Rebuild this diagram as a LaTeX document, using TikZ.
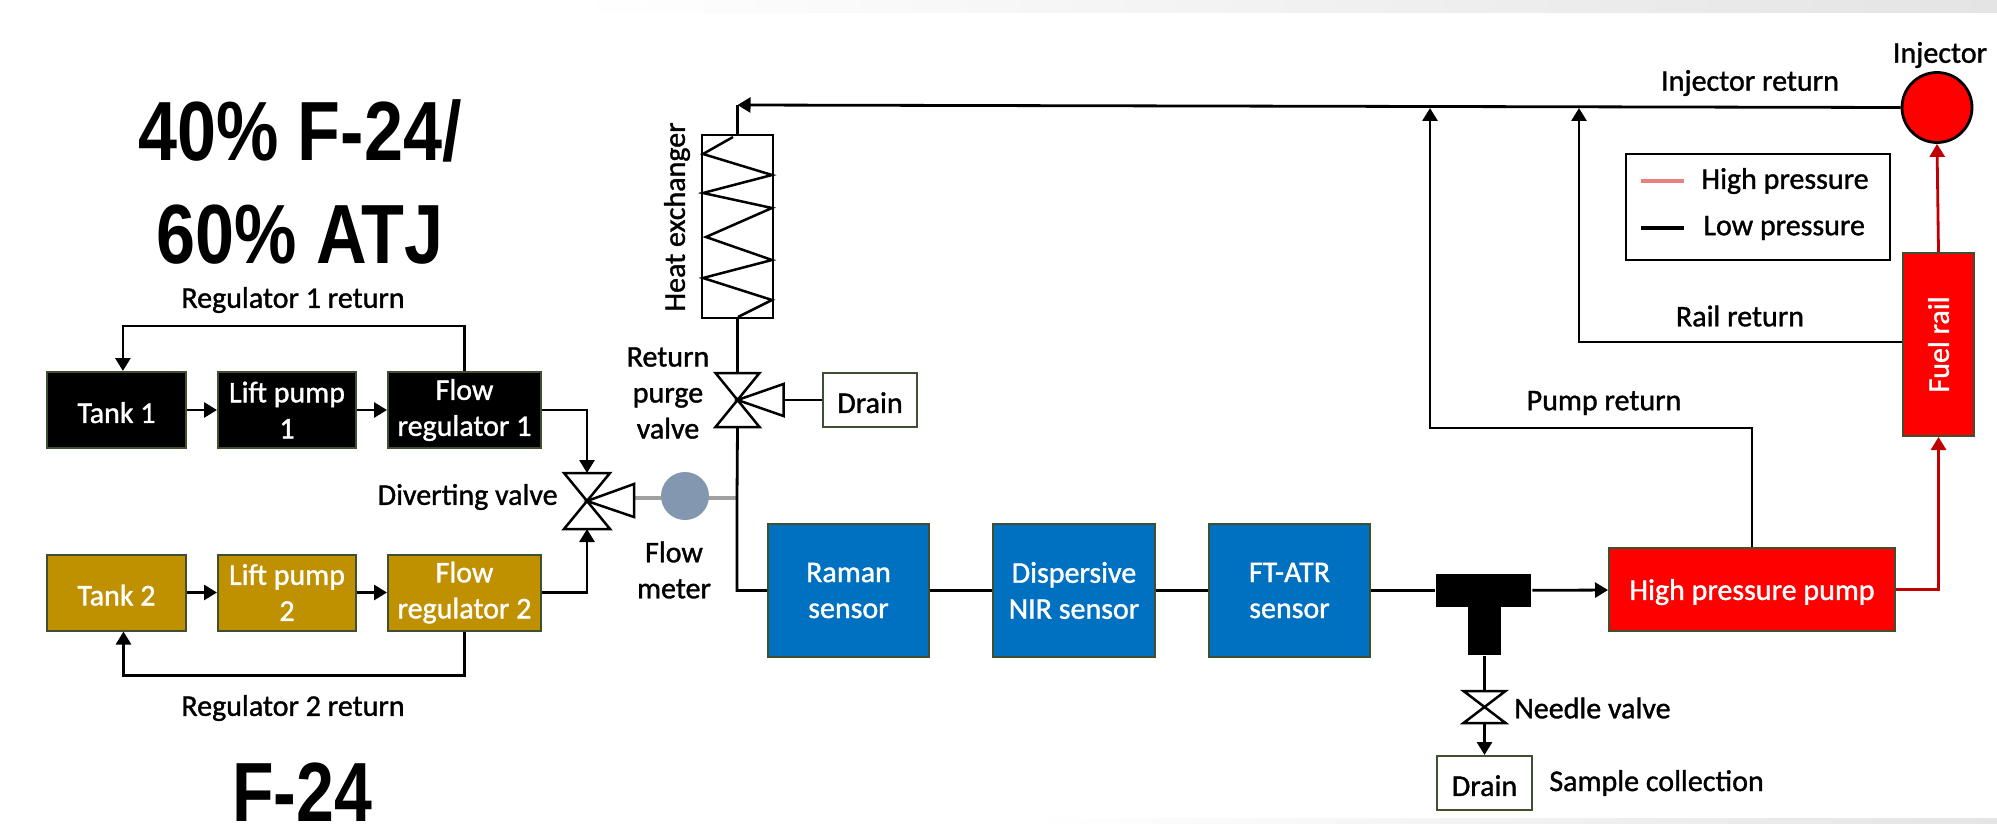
\documentclass[tikz,border=0pt]{standalone}
\usepackage{fontspec}
\setmainfont{Carlito}[FakeBold=1.2]
\newfontfamily\titlefont{Liberation Sans}
\usetikzlibrary{arrows.meta}
\definecolor{tankgold}{HTML}{BF9000}
\definecolor{sensorblue}{HTML}{0070C0}
\definecolor{pumpred}{HTML}{FF0000}
\definecolor{linered}{HTML}{C00000}
\definecolor{legendred}{HTML}{E88080}
\definecolor{meterblue}{HTML}{8497B0}
\definecolor{boxedge}{HTML}{3F4F2F}
\definecolor{pipegray}{HTML}{A0A0A0}
\definecolor{bandgray}{HTML}{E4E4E4}
\newcommand{\bigtitle}[2]{\scalebox{#1}[1]{\titlefont\bfseries\fontsize{42}{50}\selectfont #2}}

\begin{document}
\begin{tikzpicture}[
    x=0.5pt,y=-0.5pt,
    line width=1.4pt,
    font=\fontsize{15}{18}\selectfont
]
\tikzset{
    mybox/.style = {rectangle, draw=boxedge, line width=1pt, inner sep=0pt, align=center, text=white,
        execute at begin node=\rule{0pt}{13pt}},
    tankbox/.style = {mybox, fill=black, minimum height=38pt},
    goldbox/.style = {mybox, fill=tankgold, minimum height=38pt},
    sensorbox/.style = {mybox, fill=sensorblue, minimum width=80.5pt, minimum height=66.5pt},
    redbox/.style = {mybox, fill=pumpred},
    drainbox/.style = {mybox, fill=white, text=black, minimum width=47pt, minimum height=27pt},
    teebox/.style = {rectangle, fill=black, inner sep=0pt},
    txt/.style = {inner sep=0pt, align=center, text=black},
    bigtxt/.style = {inner sep=0pt, anchor=base, text=black},
    edgen/.style = {-{Triangle[length=6.5pt,width=7.5pt]}},
    edger/.style = {-{Triangle[length=6.5pt,width=7.5pt]},linered},
    valveline/.style = {line width=1.25pt,line join=miter}
}
\useasboundingbox (0,0) rectangle (1997,824);
\fill[left color=white,right color=bandgray,draw=none] (570,0) rectangle (1997,13);
\fill[left color=white,right color=bandgray,draw=none] (1030,818) rectangle (1997,824);

% titles
\node[bigtxt] at (300,161) (title1) {\bigtitle{.835}{40\% F-24/}};
\node[bigtxt] at (300,263) (title2) {\bigtitle{.835}{60\% ATJ}};
\node[bigtxt] at (302,821) (title3) {\bigtitle{.81}{F-24}};

% tanks, pumps, regulators
\node[tankbox,minimum width=69.5pt] at (116.5,410) (tank1) {Tank 1};
\node[tankbox,minimum width=69pt] at (287,410) (lift1) {Lift pump\\1};
\node[tankbox,minimum width=76.5pt] at (464.5,410) (reg1) {Flow\\regulator 1};
\node[goldbox,minimum width=69.5pt] at (116.5,592.5) (tank2) {Tank 2};
\node[goldbox,minimum width=69pt] at (287,592.5) (lift2) {Lift pump\\2};
\node[goldbox,minimum width=76.5pt] at (464.5,592.5) (reg2) {Flow\\regulator 2};

% flow meter sits on its pipe
\coordinate (dvside) at (634,498);
\coordinate (jn) at (737,498);
\draw[pipegray,line width=2pt] (dvside) -- (jn);
\node[circle,fill=meterblue,minimum size=24pt,inner sep=0pt] at (685,496) (fm) {};

% sensors and engine side
\node[sensorbox] at (848.5,590.5) (raman) {Raman\\sensor};
\node[sensorbox,minimum width=81pt] at (1074,590.5) (nir) {Dispersive\\NIR sensor};
\node[sensorbox] at (1289.5,590.5) (atr) {FT-ATR\\sensor};
\node[redbox,minimum width=143pt,minimum height=41.5pt] at (1752,589.5) (hpp) {High pressure pump};
\node[redbox,minimum width=35.5pt,minimum height=91.5pt] at (1938.5,344.5) (rail) {};
\node[txt,text=white,rotate=90] at (rail) (railtxt) {Fuel rail};
\node[circle,draw=black,fill=pumpred,minimum size=35pt,inner sep=0pt] at (1937,107.5) (inj) {};
\node[drainbox] at (870,400) (drain1) {Drain};
\node[drainbox,minimum width=47.5pt] at (1484.5,783) (drain2) {Drain};
\node[teebox,minimum width=47.5pt,minimum height=16.5pt] at (1483.5,590.5) (tee) {};
\node[teebox,minimum width=16.5pt,minimum height=24pt] at (1484.5,631) (stem) {};
\node[rectangle,draw=black,minimum width=35.5pt,minimum height=91.5pt,inner sep=0pt] at (737.5,226.5) (hx) {};
\draw[line width=1.25pt] (733,137) -- (703,154) -- (772,175) -- (703,193) -- (772,208) -- (706,237)
    -- (772,260) -- (703,278) -- (772,300) -- (738,317);

% valves
\coordinate (dv) at (587,501);
\coordinate (dvtop) at (587,473);
\coordinate (dvbot) at (587,529);
\draw[valveline] (dv) -- ++(-23,-28) -- ++(46,0) -- ++(-46,56) -- ++(46,0) -- cycle;
\draw[valveline] (dv) -- ++(47,-17) -- ++(0,33) -- cycle;
\coordinate (rp) at (737.5,400);
\coordinate (rptop) at (737.5,373);
\coordinate (rpbot) at (737.5,427);
\coordinate (rpside) at (784,400);
\draw[valveline] (rp) -- ++(-22,-27) -- ++(44,0) -- ++(-44,54) -- ++(44,0) -- cycle;
\draw[valveline] (rp) -- ++(46,-16) -- ++(0,32) -- cycle;
\coordinate (nv) at (1484.5,707);
\coordinate (nvtop) at (1484.5,691);
\coordinate (nvbot) at (1484.5,723);
\draw[valveline] (nv) -- ++(-21,-16) -- ++(42,0) -- ++(-42,32) -- ++(42,0) -- cycle;

% low pressure lines
\coordinate (hxtop) at (737.5,105);
\coordinate (pumptip) at (1430,108);
\coordinate (railtip) at (1579,108);
\draw[edgen] (tank1) -- (lift1);
\draw[edgen] (lift1) -- (reg1);
\draw[edgen] (tank2) -- (lift2);
\draw[edgen] (lift2) -- (reg2);
\draw[edgen] (reg1.north) -- ++(0,-45) -| ([xshift=3.2pt]tank1.north);
\draw[edgen] (reg2.south) -- ++(0,44) -| ([xshift=3.5pt]tank2.south);
\draw[edgen] (reg1.east) -| (dvtop);
\draw[edgen] (reg2.east) -| (dvbot);
\draw (rpbot) -- (jn) |- (raman.west);
\draw (raman) -- (nir);
\draw (nir) -- (atr);
\draw (atr) -- (tee);
\draw[edgen] (tee) -- (hpp);
\draw (stem) -- (nvtop);
\draw[edgen] (nvbot) -- (drain2.north);
\draw (hx.south) -- (rptop);
\draw (rpside) -- (drain1);
\draw (hx.north) -- (hxtop);
\draw[edgen] (inj.west) -- (hxtop);
\draw[edgen] (hpp.north) -- ++(0,-119) -| (pumptip);
\draw[edgen] ([yshift=1.25pt]rail.west) -| (railtip);

% high pressure lines
\draw[edger] (hpp.east) -| (rail.south);
\draw[edger] (rail.north) -- (inj.south);

% legend
\node[rectangle,draw=black,line width=1.25pt,minimum width=132pt,minimum height=53pt,inner sep=0pt] at (1758,207) (legend) {};
\node[txt,anchor=west] at (1700,181) (lhigh) {High pressure};
\node[txt,anchor=west] at (1702,228) (llow) {Low pressure};
\draw[legendred,line width=2pt] (lhigh.west) ++(-59,0) coordinate (lh1) -- ++(43,0) coordinate (lh2);
\draw[black,line width=1.75pt] (llow.west) ++(-61,0) coordinate (ll1) -- ++(43,0) coordinate (ll2);

% labels
\node[txt] at (293,300) (lreg1) {Regulator 1 return};
\node[txt] at (293,708) (lreg2) {Regulator 2 return};
\node[txt,anchor=east] at (559,497) (ldiv) {Diverting valve};
\node[txt] at (668,393) (lpurge) {Return\\purge\\valve};
\node[txt] at (674,570) (lflow) {Flow\\meter};
\node[txt,rotate=90] at (677,217) (lhx) {Heat exchanger};
\node[txt] at (1940,55) (linj) {Injector};
\node[txt] at (1750,83) (linjr) {Injector return};
\node[txt] at (1740,316) (lrailr) {Rail return};
\node[txt] at (1604,403) (lpumpr) {Pump return};
\node[txt,anchor=west] at (1513,708) (lneedle) {Needle valve};
\node[txt,anchor=west] at (1548,783) (lsample) {Sample collection};
\end{tikzpicture}
\end{document}
